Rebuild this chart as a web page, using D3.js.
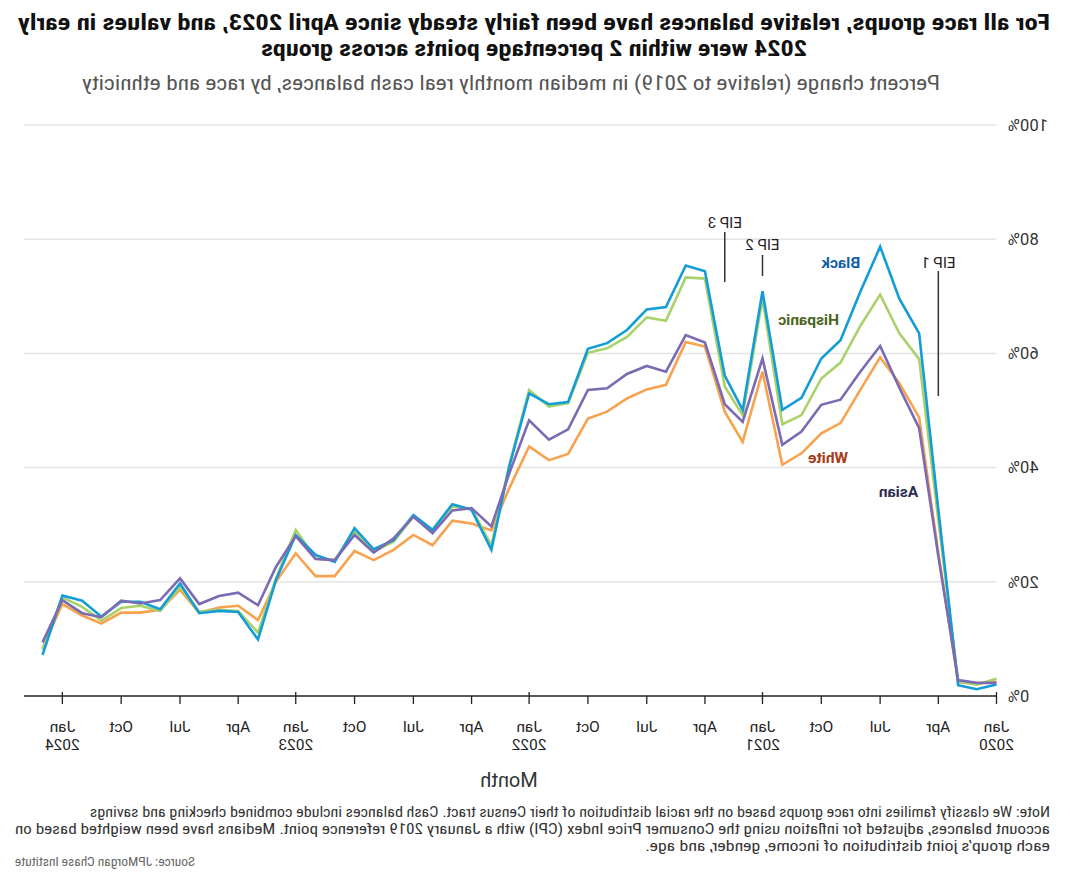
<!DOCTYPE html>
<html><head><meta charset="utf-8">
<script src="https://cdn.jsdelivr.net/npm/d3@7"></script>
<style>
html,body{margin:0;padding:0;background:#fff;}
svg{display:block;}
text{font-family:Roboto,"Open Sans",sans-serif;}
text.narrow{font-family:"Liberation Sans Narrow","Roboto Condensed",Roboto,sans-serif;}
</style></head>
<body><svg id="chart" width="1070" height="885"></svg>
<script>
// ---------------- data ----------------
const startMonth = "2020-01";   // first month of the series (monthly, Jan 2020 – Feb 2024)
const endMonth = "2024-03";     // end of the x domain
const seriesNames = ["White", "Hispanic", "Black", "Asian"];
const black = [2.0,1.2,1.9,32.7,63.5,69.6,78.7,70.8,62.3,59.1,52.2,50.1,
  70.9,50.1,56.1,74.4,75.4,68.1,67.7,64.1,61.8,60.8,51.5,51.1,
  53.0,40.2,25.6,32.6,33.6,29.1,31.7,27.3,25.7,29.4,23.5,24.7,
  28.2,20.3,9.9,14.7,14.9,14.5,19.7,15.2,16.5,16.5,13.9,16.7,
  17.6,7.2];
const hispanic = [3.0,2.0,2.5,30.8,59.0,63.5,70.3,64.8,58.4,55.6,49.2,47.6,
  69.6,49.2,54.2,73.1,73.3,65.7,66.3,62.9,60.9,60.1,51.3,50.7,
  53.6,40.5,26.4,32.8,33.2,28.8,31.4,27.0,25.3,28.8,23.8,24.1,
  29.1,20.6,11.1,14.9,15.1,14.8,19.1,14.9,15.8,15.4,13.2,15.6,
  17.3,8.1];
const white = [2.5,2.2,2.4,25.1,48.8,54.8,59.3,53.6,47.8,46.0,42.5,40.5,
  56.8,44.5,49.8,61.2,62.0,54.5,53.7,52.1,49.8,48.6,42.4,41.3,
  43.7,36.4,29.0,30.2,30.7,26.4,28.2,25.6,23.8,25.4,21.0,21.0,
  25.0,20.0,13.3,15.8,15.5,14.6,18.6,15.1,14.6,14.6,12.7,14.1,
  16.1,8.4];
const asian = [2.3,2.3,2.8,24.5,46.9,54.0,61.3,56.8,51.9,51.0,46.3,44.0,
  59.1,48.0,51.1,61.9,63.2,56.8,57.8,56.4,53.9,53.6,46.7,44.9,
  48.3,39.0,29.7,32.9,32.5,28.5,31.4,27.6,25.1,28.2,23.8,24.0,
  28.0,22.6,15.9,18.1,17.5,16.1,20.6,16.8,16.2,16.7,13.8,14.5,
  16.8,9.4];
const yTicks = [0, 20, 40, 60, 80, 100];
const xTickMonths = ["Jan", "Apr", "Jul", "Oct"];
const xTickYears = ["2020", "2021", "2022", "2023", "2024"];
const eipLabels = ["EIP 1", "EIP 2", "EIP 3"];
const eipMonths = ["2020-04", "2021-01", "2021-03"];

const titleLines = [
  "For all race groups, relative balances have been fairly steady since April 2023, and values in early",
  "2024 were within 2 percentage points across groups"
];
const subtitle = "Percent change (relative to 2019) in median monthly real cash balances, by race and ethnicity";
const xTitle = "Month";
const noteLines = [
  "Note: We classify families into race groups based on the racial distribution of their Census tract. Cash balances include combined checking and savings",
  "account balances, adjusted for inflation using the Consumer Price Index (CPI) with a January 2019 reference point. Medians have been weighted based on",
  "each group\u2019s joint distribution of income, gender, and age."
];
const source = "Source: JPMorgan Chase Institute";

// ---------------- styles ----------------
const lineColors = {White:"#f9a24e", Hispanic:"#a9d26b", Black:"#139cd8", Asian:"#7a6bb3"};
const labelColors = {White:"#a83a18", Hispanic:"#4b6420", Black:"#1060a8", Asian:"#2d2b54"};
const values = {White:white, Hispanic:hispanic, Black:black, Asian:asian};

const W = 1070, H = 885;
const svg = d3.select("#chart");
// the reference picture is horizontally mirrored
const root = svg.append("g").attr("transform", `translate(${W},0) scale(-1,1)`);

const parse = d3.timeParse("%Y-%m");
const t0 = parse(startMonth), tEnd = parse(endMonth);
const dates = black.map((_, i) => d3.timeMonth.offset(t0, i));
const x = d3.scaleTime().domain([t0, tEnd]).range([73.5, 1046]);
const y = d3.scaleLinear().domain([0, 100]).range([696, 125]);
const nMonths = d3.timeMonth.count(t0, tEnd);
const xm = k => x(t0) + (x(tEnd) - x(t0)) * k / nMonths;  // fractional month position

// grid
root.append("g").selectAll("line").data(yTicks.filter(d => d > 0)).join("line")
  .attr("x1", x(t0)).attr("x2", x(tEnd))
  .attr("y1", d => y(d)).attr("y2", d => y(d))
  .attr("stroke", "#e4e4e4").attr("stroke-width", 1.5);

// y labels
root.append("g").selectAll("text").data(yTicks).join("text")
  .attr("x", 62).attr("y", d => y(d)).attr("dy", "0.35em")
  .attr("text-anchor", "end").attr("font-size", 16.5).attr("fill", "#333")
  .text(d => d + "%");

// x axis
const ax = root.append("g");
ax.append("line").attr("x1", x(t0)).attr("x2", x(tEnd)).attr("y1", y(0)).attr("y2", y(0))
  .attr("stroke", "#222").attr("stroke-width", 1.6);
const tickDates = d3.timeMonth.every(3).range(t0, d3.timeMonth.offset(parse("2024-01"), 1));
const tg = ax.selectAll("g.tick").data(tickDates).join("g").attr("class", "tick")
  .attr("transform", d => `translate(${x(d)},0)`);
tg.append("line").attr("y1", d => d.getMonth() === 0 ? y(0) - 4 : y(0)).attr("y2", y(0) + 8)
  .attr("stroke", "#222").attr("stroke-width", 1.3);
tg.append("text").attr("y", 727).attr("dy", "0.35em").attr("text-anchor", "middle")
  .attr("font-size", 15.5).attr("fill", "#222")
  .text(d => xTickMonths[d.getMonth() / 3]);
tg.filter(d => d.getMonth() === 0).append("text").attr("y", 745).attr("dy", "0.35em")
  .attr("text-anchor", "middle").attr("font-size", 15.5).attr("fill", "#222")
  .text(d => xTickYears[d.getFullYear() - 2020]);

root.append("text").attr("x", 561).attr("y", 780).attr("dy", "0.35em")
  .attr("text-anchor", "middle").attr("font-size", 20).attr("fill", "#333").text(xTitle);

// EIP annotations
const eipSpans = [[271, 396, 263], [255, 276, 245], [232, 282, 223]]; // y1,y2,label-y (px)
eipMonths.forEach((m, i) => {
  const xx = x(parse(m));
  root.append("line").attr("x1", xx).attr("x2", xx).attr("y1", eipSpans[i][0]).attr("y2", eipSpans[i][1])
    .attr("stroke", "#333").attr("stroke-width", 1.5);
  root.append("text").attr("x", xx).attr("y", eipSpans[i][2]).attr("dy", "0.35em")
    .attr("text-anchor", "middle").attr("font-size", 15).attr("fill", "#222").text(eipLabels[i]);
});

// lines
const line = d3.line().x((d, i) => x(dates[i])).y(d => y(d));
root.append("g").selectAll("path").data(seriesNames).join("path")
  .attr("d", s => line(values[s]))
  .attr("fill", "none").attr("stroke", s => lineColors[s]).attr("stroke-width", 2.6)
  .attr("stroke-linejoin", "miter");

// series labels (month offset, value)
const labelPos = {Black:[8.0, 75.9], Hispanic:[9.66, 66.0], White:[8.66, 41.7], Asian:[5.04, 35.8]};
seriesNames.forEach(s => {
  root.append("text").attr("x", xm(labelPos[s][0])).attr("y", y(labelPos[s][1])).attr("dy", "0.35em")
    .attr("text-anchor", "middle").attr("font-size", 15.5).attr("font-weight", "bold")
    .attr("fill", labelColors[s]).text(s);
});

// titles
const tl = [[30, 1032], [56, 546]];
titleLines.forEach((t, i) => {
  root.append("text").attr("class", "narrow").attr("x", 536).attr("y", tl[i][0]).attr("text-anchor", "middle")
    .attr("font-size", 22).attr("font-weight", "bold").attr("fill", "#111")
    .attr("textLength", tl[i][1]).attr("lengthAdjust", "spacingAndGlyphs").text(t);
});
root.append("text").attr("class", "narrow").attr("x", 559).attr("y", 90).attr("text-anchor", "middle")
  .attr("font-size", 19.5).attr("fill", "#555")
  .attr("textLength", 858).attr("lengthAdjust", "spacingAndGlyphs").text(subtitle);

// notes
const nl = [[817, 960], [834, 1035], [851, 405]];
noteLines.forEach((t, i) => {
  root.append("text").attr("class", "narrow").attr("x", 20).attr("y", nl[i][0]).attr("font-size", 14.5).attr("fill", "#333")
    .attr("textLength", nl[i][1]).attr("lengthAdjust", "spacingAndGlyphs").text(t);
});
root.append("text").attr("class", "narrow").attr("x", 1055).attr("y", 866).attr("text-anchor", "end")
  .attr("font-size", 13).attr("fill", "#666")
  .attr("textLength", 180).attr("lengthAdjust", "spacingAndGlyphs").text(source);
</script></body></html>
